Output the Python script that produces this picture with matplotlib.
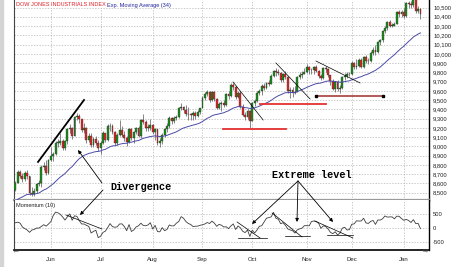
import matplotlib
matplotlib.use('Agg')
import matplotlib.pyplot as plt
from matplotlib.patches import FancyArrowPatch, Rectangle
import numpy as np

# daily DJIA candles, 9 May 2003 .. 13 Jan 2004 (one entry per trading day)
opens = [8531, 8604, 8726, 8679, 8647, 8713, 8678, 8493, 8491, 8516,
         8594, 8601, 8781, 8793, 8711, 8850, 8897, 8923, 9039, 9041,
         9062, 8980, 9054, 9183, 9196, 9117, 9318, 9323, 9294, 9179,
         9201, 9072, 9109, 9011, 9079, 9040, 8985, 9040, 9142, 9070,
         9216, 9224, 9156, 9036, 9119, 9178, 9128, 9094, 9050, 9188,
         9096, 9158, 9194, 9112, 9284, 9266, 9204, 9200, 9233, 9153,
         9186, 9036, 9061, 9126, 9191, 9217, 9310, 9271, 9310, 9321,
         9412, 9428, 9398, 9348, 9348, 9340, 9362, 9333, 9374, 9415,
         9523, 9568, 9587, 9503, 9586, 9507, 9420, 9459, 9471, 9448,
         9567, 9546, 9659, 9644, 9535, 9576, 9425, 9343, 9313, 9380,
         9275, 9469, 9487, 9572, 9594, 9654, 9630, 9680, 9674, 9764,
         9813, 9803, 9791, 9721, 9777, 9747, 9598, 9613, 9582, 9590,
         9748, 9774, 9786, 9801, 9858, 9820, 9820, 9856, 9809, 9756,
         9737, 9848, 9837, 9768, 9710, 9624, 9690, 9619, 9629, 9748,
         9763, 9779, 9782, 9899, 9853, 9873, 9930, 9862, 9965, 9923,
         9921, 10008, 10042, 10023, 10130, 10146, 10248, 10278, 10341, 10305,
         10305, 10324, 10450, 10426, 10454, 10410, 10544, 10538, 10530, 10593,
         10458, 10485]
highs = [8625, 8740, 8740, 8710, 8730, 8740, 8680, 8560, 8550, 8610,
         8640, 8800, 8830, 8850, 8860, 8990, 8940, 9060, 9080, 9140,
         9080, 9070, 9200, 9240, 9210, 9330, 9360, 9350, 9300, 9250,
         9210, 9140, 9150, 9100, 9110, 9070, 9060, 9170, 9150, 9240,
         9250, 9240, 9170, 9140, 9280, 9220, 9170, 9110, 9200, 9200,
         9170, 9210, 9220, 9300, 9350, 9290, 9240, 9300, 9240, 9200,
         9190, 9090, 9140, 9200, 9250, 9330, 9320, 9330, 9340, 9430,
         9470, 9440, 9450, 9430, 9360, 9380, 9380, 9390, 9420, 9540,
         9590, 9610, 9600, 9600, 9600, 9520, 9480, 9490, 9500, 9580,
         9600, 9680, 9690, 9650, 9600, 9600, 9460, 9370, 9400, 9390,
         9480, 9510, 9600, 9620, 9670, 9680, 9700, 9720, 9780, 9830,
         9850, 9840, 9800, 9790, 9810, 9750, 9640, 9640, 9650, 9760,
         9800, 9810, 9850, 9890, 9870, 9850, 9870, 9880, 9820, 9780,
         9860, 9870, 9850, 9770, 9730, 9710, 9720, 9660, 9760, 9790,
         9800, 9800, 9920, 9910, 9940, 9950, 9950, 9980, 9990, 9960,
         10030, 10070, 10100, 10140, 10160, 10260, 10300, 10350, 10360, 10330,
         10340, 10460, 10470, 10470, 10500, 10560, 10570, 10570, 10620, 10600,
         10520, 10500]
lows = [8520, 8600, 8660, 8620, 8630, 8650, 8480, 8460, 8460, 8500,
        8570, 8560, 8750, 8690, 8700, 8840, 8840, 8910, 8990, 9020,
        8960, 8960, 9030, 9150, 9080, 9110, 9280, 9250, 9160, 9150,
        9040, 9050, 8990, 8990, 9010, 8950, 8920, 9030, 9050, 9060,
        9170, 9130, 9020, 9020, 9110, 9100, 9060, 9000, 9040, 9070,
        9040, 9130, 9100, 9090, 9240, 9170, 9170, 9180, 9130, 9070,
        9020, 8990, 9030, 9100, 9160, 9200, 9240, 9250, 9290, 9310,
        9390, 9360, 9330, 9290, 9280, 9290, 9300, 9320, 9350, 9410,
        9500, 9540, 9480, 9490, 9490, 9400, 9400, 9380, 9430, 9440,
        9510, 9530, 9610, 9510, 9520, 9410, 9330, 9290, 9300, 9200,
        9270, 9440, 9480, 9560, 9560, 9610, 9620, 9650, 9670, 9750,
        9760, 9770, 9700, 9700, 9730, 9580, 9520, 9530, 9570, 9585,
        9730, 9740, 9780, 9790, 9780, 9780, 9780, 9800, 9740, 9720,
        9730, 9800, 9750, 9660, 9610, 9590, 9600, 9580, 9620, 9720,
        9740, 9760, 9775, 9840, 9840, 9860, 9850, 9850, 9900, 9890,
        9910, 9990, 9990, 10010, 10100, 10130, 10230, 10260, 10290, 10290,
        10300, 10320, 10400, 10400, 10390, 10400, 10500, 10490, 10510, 10440,
        10440, 10380]
closes = [8604, 8726, 8679, 8647, 8713, 8678, 8493, 8491, 8516, 8594,
          8601, 8781, 8793, 8711, 8850, 8897, 8923, 9039, 9041, 9062,
          8980, 9054, 9183, 9196, 9117, 9318, 9323, 9294, 9179, 9201,
          9072, 9109, 9011, 9079, 9040, 8985, 9040, 9142, 9070, 9216,
          9224, 9156, 9036, 9119, 9178, 9128, 9094, 9050, 9188, 9096,
          9158, 9194, 9112, 9284, 9266, 9204, 9200, 9233, 9153, 9186,
          9036, 9061, 9126, 9191, 9217, 9310, 9271, 9310, 9321, 9412,
          9428, 9398, 9348, 9348, 9340, 9362, 9333, 9374, 9415, 9523,
          9568, 9587, 9503, 9586, 9507, 9420, 9459, 9471, 9448, 9567,
          9546, 9659, 9644, 9535, 9576, 9425, 9343, 9313, 9380, 9275,
          9469, 9487, 9572, 9594, 9654, 9630, 9680, 9674, 9764, 9813,
          9803, 9791, 9721, 9777, 9747, 9598, 9613, 9582, 9590, 9748,
          9774, 9786, 9801, 9858, 9820, 9820, 9856, 9809, 9756, 9737,
          9848, 9837, 9768, 9710, 9624, 9690, 9619, 9629, 9748, 9763,
          9779, 9782, 9899, 9853, 9873, 9930, 9862, 9965, 9923, 9921,
          10008, 10042, 10023, 10130, 10146, 10248, 10278, 10341, 10305, 10305,
          10324, 10450, 10426, 10454, 10410, 10544, 10538, 10530, 10593, 10458,
          10485, 10427]
# the 10 closes before the first candle (needed for Momentum(10))
prior_closes = [8424, 8526, 8509, 8612, 8733, 8748, 8643, 8561, 8566, 8594]
ema_start = 8410   # value of the 34-day EMA on the first candle

month_labels = ['Jun', 'Jul', 'Aug', 'Sep', 'Oct', 'Nov', 'Dec', 'Jan']
month_starts = [15, 36, 58, 79, 100, 123, 142, 164]
price_ticks = list(range(8500, 10501, 100))
mom_ticks = [500, 0, -500]

o = np.array(opens, float)
h = np.array(highs, float)
l = np.array(lows, float)
c = np.array(closes, float)
x = np.arange(len(c))

# indicators, as the charting program computes them
alpha = 2 / (34 + 1)
ema = [ema_start]
for v in c[1:]:
    ema.append(ema[-1] + alpha * (v - ema[-1]))
back = np.concatenate([prior_closes, c])
mom = c - back[:len(c)]

W, H = 465, 267


def fx(px):
    return px / W


def fy(py):
    return 1 - py / H


plt.rcParams['font.family'] = ['Liberation Sans', 'DejaVu Sans']
fig = plt.figure(figsize=(W / 100, H / 100), dpi=100)
fig.patches.append(Rectangle((0, 0), fx(3), 1, transform=fig.transFigure,
                             color='#d4d4d4', zorder=0))

ax = fig.add_axes([fx(14), fy(200), fx(429) - fx(14), fy(0) - fy(200)])
axm = fig.add_axes([fx(14), fy(250), fx(429) - fx(14), fy(200) - fy(250)])

grid_kw = dict(color='#b4b4b4', lw=0.5, ls=(0, (2, 2)))

# ---- price panel
up = c >= o
cols = np.where(up, '#1a8f1a', '#e32626')
ax.vlines(x, l, h, color='#555555', lw=0.5, zorder=2)
ax.bar(x, np.maximum(np.abs(c - o), 4), bottom=np.minimum(o, c), width=0.8,
       color=cols, edgecolor='#2a2a2a', linewidth=0.25, zorder=3)
ax.plot(x, ema, color='#4b4ba8', lw=0.7, zorder=4)

ax.set_xlim(-0.55, 174.6)
ax.set_ylim(8421, 10581)
ax.set_yticks(price_ticks)
ax.set_yticklabels([f'{v:,}' for v in price_ticks])
ax.set_xticks(month_starts)
ax.set_xticklabels([])
ax.grid(True, **grid_kw)
ax.set_axisbelow(True)
ax.yaxis.tick_right()
ax.tick_params(axis='y', length=0, pad=3, labelsize=4.2, labelcolor='#222222')
ax.tick_params(axis='x', length=0)
ax.spines['top'].set_visible(False)
ax.spines['left'].set_color('#444444')
ax.spines['left'].set_linewidth(0.8)
ax.spines['right'].set_linewidth(1.0)
ax.spines['bottom'].set_color('#9a9a9a')
ax.spines['bottom'].set_linewidth(1.6)

# divergence trendline and pattern lines
ax.plot([9.6, 29.0], [8832, 9501], color='black', lw=1.3, zorder=5)
ax.plot([91.9, 104.6], [9696, 9285], color='black', lw=0.5, zorder=5)
ax.plot([110.0, 124.4], [9901, 9512], color='black', lw=0.5, zorder=5)
ax.plot([126.9, 145.5], [9922, 9685], color='black', lw=0.5, zorder=5)
ax.plot([87.7, 114.3], [9188, 9188], color='#e53030', lw=1.3, zorder=5)
ax.plot([103.3, 131.2], [9458, 9458], color='#e53030', lw=1.3, zorder=5)
ax.plot([126.9, 155.2], [9544, 9544], color='#a02c2c', lw=1.1, zorder=5,
        marker='s', ms=1.7, mfc='black', mec='black')

# ---- momentum panel
axm.plot(x, mom, color='#3c3c3c', lw=0.6, zorder=3)
axm.set_xlim(-0.55, 174.6)
axm.set_ylim(-759, 966)
axm.set_yticks(mom_ticks)
axm.set_yticklabels([str(v) for v in mom_ticks])
axm.set_xticks(month_starts)
axm.set_xticklabels(month_labels)
axm.grid(True, **grid_kw)
axm.set_axisbelow(True)
axm.yaxis.tick_right()
axm.tick_params(axis='y', length=0, pad=3, labelsize=4.2, labelcolor='#222222')
axm.tick_params(axis='x', length=0, pad=5, labelsize=4.3, labelcolor='#222222')
axm.spines['top'].set_visible(False)
axm.spines['left'].set_color('#444444')
axm.spines['left'].set_linewidth(0.8)
axm.spines['right'].set_linewidth(1.0)
axm.spines['bottom'].set_linewidth(1.2)

for xs, ys in [([21.4, 36.6], [449, -35]),
               ([93.6, 103.3], [207, -345]), ([94.0, 106.2], [-328, -328]),
               ([108.4, 121.0], [518, -310]), ([113.8, 124.4], [-276, -276]),
               ([126.4, 142.5], [242, -345]), ([131.6, 142.5], [-242, -242])]:
    axm.plot(xs, ys, color='black', lw=0.5, zorder=4)

# ---- texts
fig.text(fx(16), fy(5), 'DOW JONES INDUSTRIALS INDEX', color='#e0202a',
         fontsize=3.95, va='center', ha='left',
         bbox=dict(facecolor='white', edgecolor='none', pad=0.6))
fig.text(fx(107), fy(5), 'Exp. Moving Average (34)', color='#22229a',
         fontsize=3.95, va='center', ha='left',
         bbox=dict(facecolor='white', edgecolor='none', pad=0.6))
fig.text(fx(16), fy(205), 'Momentum (10)', color='#222222', fontsize=4,
         va='center', ha='left')
fig.text(fx(141), fy(187), 'Divergence', family='Liberation Mono',
         weight='bold', fontsize=7.3, va='center', ha='center')
fig.text(fx(312), fy(175), 'Extreme level', family='Liberation Mono',
         weight='bold', fontsize=7.3, va='center', ha='center')
fig.text(fx(16), fy(250), '\u21e6', family='DejaVu Sans', fontsize=5,
         va='center', ha='center', color='#555555')
fig.text(fx(426), fy(250), '\u21e8', family='DejaVu Sans', fontsize=5,
         va='center', ha='center', color='#555555')

arrows = [((102, 183), (78, 150)), ((103, 190), (80, 215)),
          ((298, 181), (252, 224)), ((298, 181), (297, 222)),
          ((298, 181), (333, 222))]
for start, end in arrows:
    fig.add_artist(FancyArrowPatch((fx(start[0]), fy(start[1])),
                                   (fx(end[0]), fy(end[1])),
                                   transform=fig.transFigure,
                                   arrowstyle='-|>', mutation_scale=5,
                                   lw=0.6, color='black',
                                   shrinkA=0, shrinkB=0))

fig.savefig('out.png', dpi=100)
